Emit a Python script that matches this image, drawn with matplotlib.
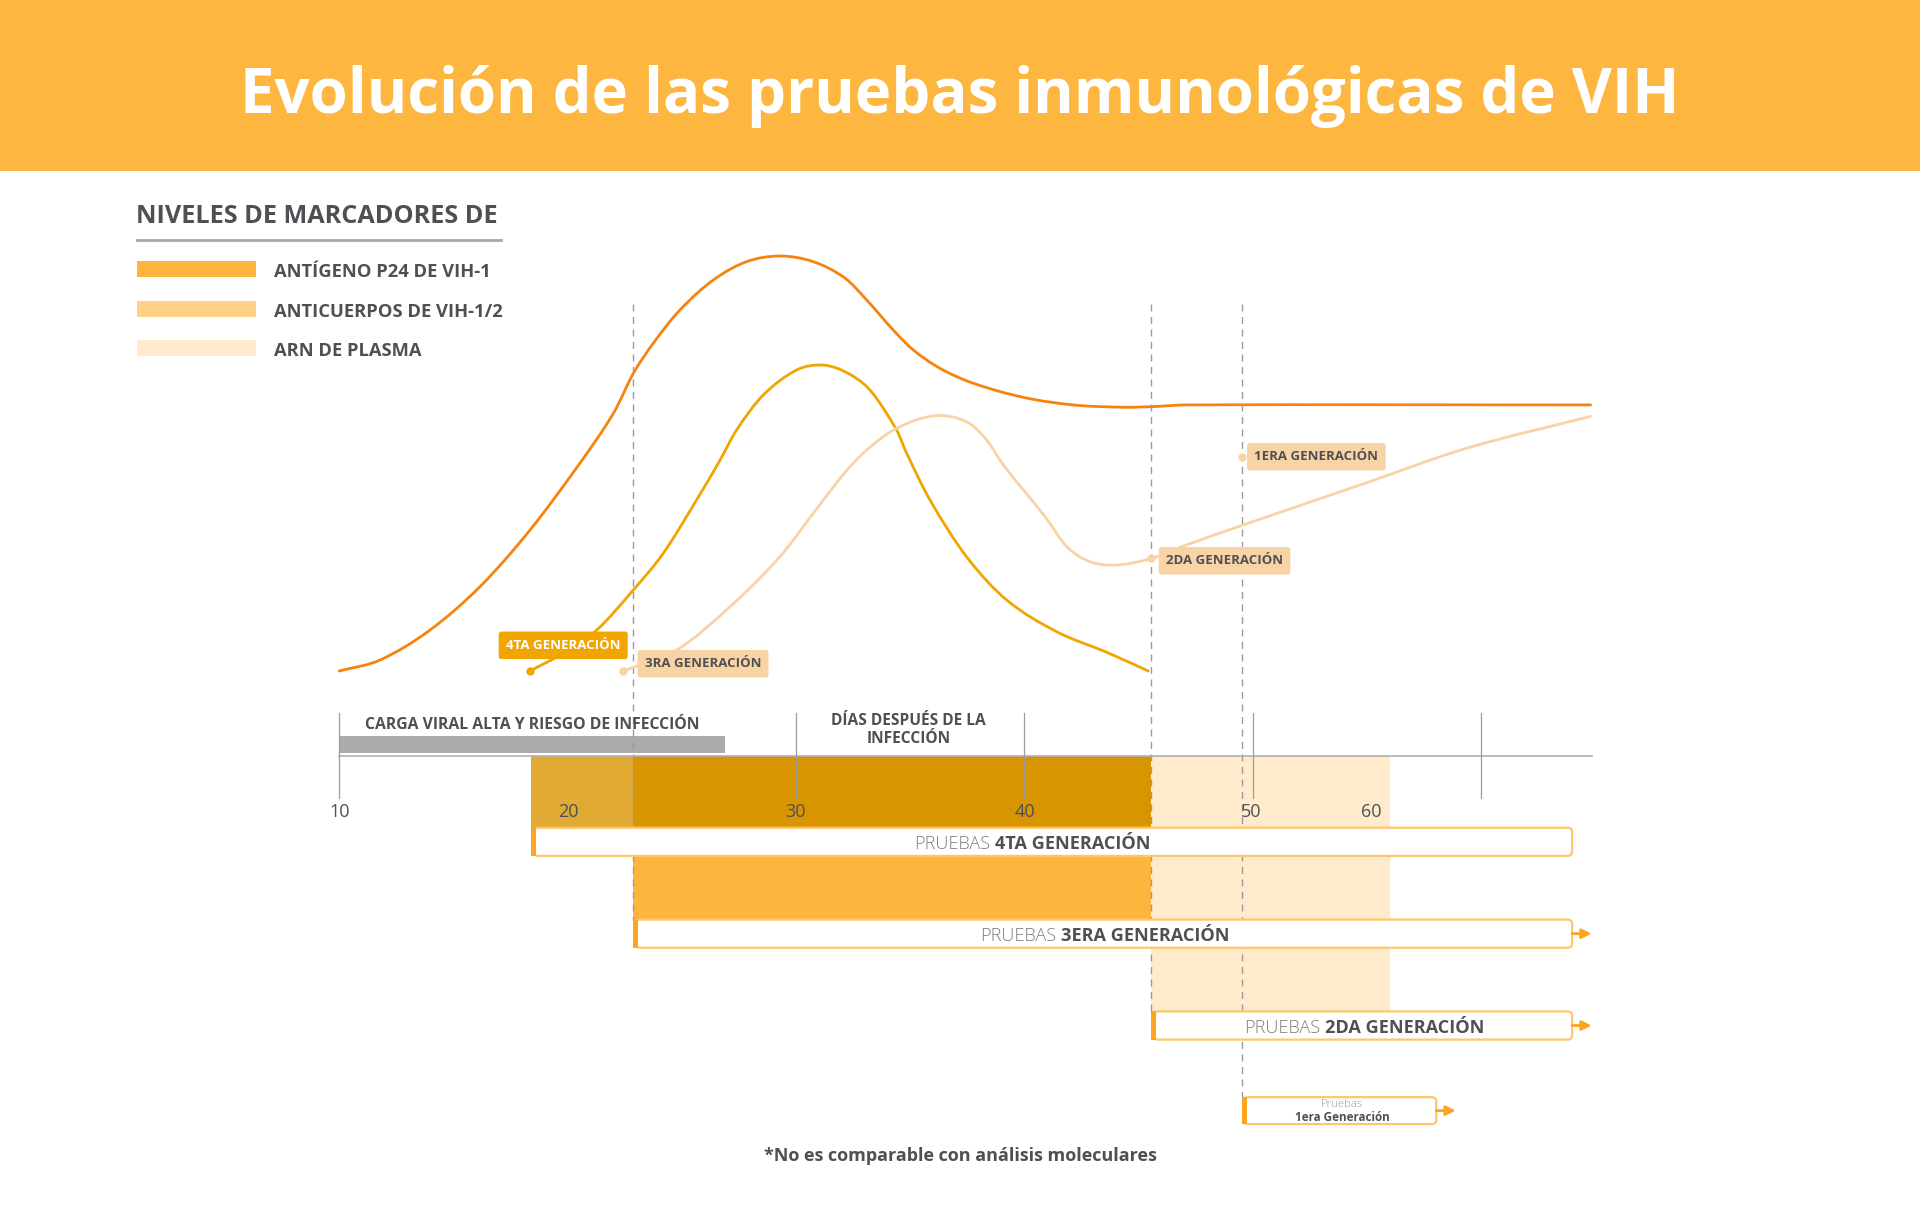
import matplotlib
matplotlib.use("Agg")
import matplotlib.pyplot as plt
from matplotlib.patches import Rectangle, FancyBboxPatch, PathPatch
from matplotlib.path import Path
from matplotlib.transforms import offset_copy

plt.rcParams['font.family'] = ['Open Sans', 'DejaVu Sans']

# ---------------------------------------------------------------------------
# datos (dias despues de la infeccion, nivel relativo)
# ---------------------------------------------------------------------------
dias_arn = [10.0, 11.79, 13.98, 16.17, 18.35, 20.55, 22.01, 22.88, 23.75, 24.92,
            26.38, 27.84, 29.30, 30.76, 32.14, 33.10, 34.26, 35.14, 36.31, 37.77,
            39.96, 42.14, 44.34, 45.58, 47.11, 64.80]
nivel_arn = [0, 9, 33.5, 69, 115, 170, 210.5, 243, 267.6, 294.8, 319.3, 334.3,
             338.9, 334.3, 321, 303, 278.5, 262.2, 247.2, 235, 223.5, 217.3,
             215.4, 215.9, 217.3, 217.3]

dias_p24 = [18.35, 19.81, 21.28, 22.88, 24.19, 25.65, 26.68, 27.40, 28.57, 30.03,
            31.13, 32.14, 33.24, 34.41, 34.85, 35.87, 37.47, 39.23, 41.42, 43.61,
            45.43]
nivel_p24 = [0, 14.5, 33.5, 66.2, 96.1, 139.7, 172.3, 196.8, 225.4, 245.8, 249.9,
             244.5, 229.5, 196.8, 177.8, 139.7, 93.4, 58, 32.1, 15.3, 0]

dias_anti = [22.44, 24.78, 27.12, 29.30, 30.76, 32.14, 33.10, 34.41, 36.09, 37.47,
             38.35, 39.08, 40.91, 41.86, 42.88, 44.05, 45.58, 46.97, 49.59, 54.70,
             59.38, 64.80]
nivel_anti = [0, 17.2, 52.6, 93.4, 128.8, 162, 180.5, 198.2, 208.5, 203.6, 188.7,
              168.3, 126, 101.6, 89.3, 86.6, 92, 102.1, 119.3, 151.9, 182, 208]

# generaciones de pruebas: inicio de la ventana de deteccion (dias)
generaciones = ["4TA GENERACIÓN", "3ERA GENERACIÓN", "2DA GENERACIÓN", "1era Generación"]
etiquetas_curva = ["4TA GENERACIÓN", "3RA GENERACIÓN", "2DA GENERACIÓN", "1ERA GENERACIÓN"]
inicio_ventana = [18.42, 22.87, 45.55, 49.52]
fin_prueba = [63.99, 63.99, 63.99, 58.04]
con_flecha = [False, True, True, True]

carga_viral = [10.05, 26.89]      # periodo de carga viral alta
fin_crema = 56.0

ticks_dias = [10, 30, 40, 50, 60]
etiquetas_x = ["10", "20", "30", "40", "50", "60"]
pos_etiquetas_x = [10, 20.03, 30, 40.03, 49.95, 55.2]

leyenda = ["ANTÍGENO P24 DE VIH-1", "ANTICUERPOS DE VIH-1/2", "ARN DE PLASMA"]
colores_leyenda = ["#FDB53E", "#FFD186", "#FFEBCB"]

GRIS = "#4F5054"
NARANJA = "#F7830F"
ORO = "#F0A500"
DURAZNO = "#F8D3A5"
BORDE = "#FFC66B"
BARRA = "#FDA51E"

W, H = 1568.0, 994.7   # espacio de trabajo
PX_DIA = 18.65


def fx(x):
    return x / W


def fy(y):
    return 1 - y / H


def curva_suave(ax, xs, ys, color):
    # trazo bezier (hermite) que pasa por los puntos leidos
    n = len(xs)
    m = []
    for i in range(n):
        a = max(i - 1, 0)
        b = min(i + 1, n - 1)
        m.append((ys[b] - ys[a]) / (xs[b] - xs[a]))
    verts = [(xs[0], ys[0])]
    codes = [Path.MOVETO]
    for i in range(n - 1):
        h = (xs[i + 1] - xs[i]) / 3
        verts += [(xs[i] + h, ys[i] + m[i] * h),
                  (xs[i + 1] - h, ys[i + 1] - m[i + 1] * h),
                  (xs[i + 1], ys[i + 1])]
        codes += [Path.CURVE4] * 3
    ax.add_patch(PathPatch(Path(verts, codes), fc='none', ec=color, lw=2,
                           capstyle='round', zorder=4))


def texto_mixto(ax, x, y, ligero, negrita, size):
    fig = ax.figure
    r = fig.canvas.get_renderer()
    t1 = ax.text(x, y, ligero, size=size, weight='light', color="#7E7E7E",
                 va='center_baseline', ha='left', zorder=8)
    t2 = ax.text(x, y, negrita, size=size, weight='bold', color=GRIS,
                 va='center_baseline', ha='left', zorder=8)
    w1 = t1.get_window_extent(r).width
    w2 = t2.get_window_extent(r).width
    gap = size * 0.35
    tot = w1 + gap + w2
    t1.set_transform(offset_copy(ax.transData, fig, x=-tot / 2, units='dots'))
    t2.set_transform(offset_copy(ax.transData, fig, x=-tot / 2 + w1 + gap, units='dots'))


def main():
    fig = plt.figure(figsize=(19.2, 12.18), dpi=100)
    ax = fig.add_axes([0, 0, 1, 1])
    ax.set_xlim(10 - 277 / PX_DIA, 10 + (W - 277) / PX_DIA)
    ax.set_ylim(548 - H, 548)
    ax.axis('off')

    # banner del titulo
    fig.patches.append(Rectangle((0, fy(140)), 1, 1 - fy(140), transform=fig.transFigure,
                                 fc="#FDB63F", ec='none', zorder=0))
    fig.text(0.5, fy(79), "Evolución de las pruebas inmunológicas de VIH", color='white',
             size=44.5, weight='bold', ha='center', va='center')

    # leyenda
    fig.text(fx(111), fy(177), "NIVELES DE MARCADORES DE", color=GRIS, size=18.2,
             weight='bold', ha='left', va='center')
    fig.add_artist(plt.Line2D([fx(112), fx(409)], [fy(196), fy(196)], color="#A7A7A7", lw=2))
    for i, (nom, col) in enumerate(zip(leyenda, colores_leyenda)):
        yc = 219.5 + i * 32.5
        fig.patches.append(Rectangle((fx(112), fy(yc + 6.5)), fx(209) - fx(112), 13 / H,
                                     transform=fig.transFigure, fc=col, ec='none'))
        fig.text(fx(224), fy(yc + 2.5), nom, color=GRIS, size=13.2, weight='bold',
                 ha='left', va='center')

    # bloques de ventana
    ax.add_patch(Rectangle((inicio_ventana[0], -129), inicio_ventana[1] - inicio_ventana[0], 60,
                           fc="#E0AA35", ec='none', zorder=1))
    ax.add_patch(Rectangle((inicio_ventana[1], -129), inicio_ventana[2] - inicio_ventana[1], 60,
                           fc="#D99500", ec='none', zorder=1))
    ax.add_patch(Rectangle((inicio_ventana[1], -204), inicio_ventana[2] - inicio_ventana[1], 75,
                           fc="#FDB53E", ec='none', zorder=1))
    ax.add_patch(Rectangle((inicio_ventana[2], -278), fin_crema - inicio_ventana[2], 209,
                           fc="#FFEBCB", ec='none', zorder=1))

    # carga viral
    ax.add_patch(Rectangle((carga_viral[0], -67), carga_viral[1] - carga_viral[0], 14,
                           fc="#ABABAB", ec='none', zorder=2))
    ax.text(18.47, -44, "CARGA VIRAL ALTA Y RIESGO DE INFECCIÓN",
            color=GRIS, size=11.3, weight='bold', ha='center', va='center', zorder=5)
    ax.text(34.94, -48, "DÍAS DESPUÉS DE LA\nINFECCIÓN", color=GRIS, size=11.2,
            weight='bold', ha='center', va='center', linespacing=1.2, zorder=5)

    # eje de dias
    ax.plot([10, 64.85], [-69, -69], color="#B0B0B0", lw=1.2, zorder=3)
    for d in ticks_dias:
        ax.plot([d, d], [-34, -104], color="#9C9C9C", lw=0.9, zorder=3)
    for lab, p in zip(etiquetas_x, pos_etiquetas_x):
        ax.text(p, -115, lab, color=GRIS, size=13, ha='center', va='center', zorder=5)

    # lineas discontinuas de cada generacion
    fondo = [None, -203, -278, -348]
    for d, yb in zip(inicio_ventana[1:], fondo[1:]):
        ax.plot([d, d], [300, yb], color="#9A9A9A", lw=1, ls=(0, (5, 4)), zorder=2)

    # curvas
    curva_suave(ax, dias_arn, nivel_arn, NARANJA)
    curva_suave(ax, dias_p24, nivel_p24, ORO)
    curva_suave(ax, dias_anti, nivel_anti, DURAZNO)

    # etiquetas de las curvas
    caja = dict(boxstyle='round,pad=0.55,rounding_size=0.2', ec='none')
    ax.plot([dias_p24[0]], [nivel_p24[0]], 'o', color=ORO, ms=5, zorder=5)
    ax.text(19.81, 21, etiquetas_curva[0], color='white', size=9.5, weight='bold',
            ha='center', va='center', zorder=6, bbox=dict(caja, fc=ORO))
    ax.plot([dias_anti[0]], [nivel_anti[0]], 'o', color=DURAZNO, ms=5, zorder=5)
    ax.text(25.93, 6, etiquetas_curva[1], color=GRIS, size=9.5, weight='bold',
            ha='center', va='center', zorder=6, bbox=dict(caja, fc=DURAZNO))
    ax.plot([inicio_ventana[2]], [92], 'o', color=DURAZNO, ms=5, zorder=5)
    ax.text(48.77, 90, etiquetas_curva[2], color=GRIS, size=9.5, weight='bold',
            ha='center', va='center', zorder=6, bbox=dict(caja, fc=DURAZNO))
    ax.plot([inicio_ventana[3]], [175], 'o', color=DURAZNO, ms=5, zorder=5)
    ax.text(52.79, 175, etiquetas_curva[3], color=GRIS, size=9.5, weight='bold',
            ha='center', va='center', zorder=6, bbox=dict(caja, fc=DURAZNO))

    # cajas de pruebas
    filas = [-139.5, -214.5, -289.5, -359]
    desplaz = [-0.85, 0.1, 0.1, 0.15]
    for i, (gen, ini, fin, fl, yc) in enumerate(zip(generaciones, inicio_ventana, fin_prueba,
                                                    con_flecha, filas)):
        alto = 23 if i < 3 else 22
        ax.add_patch(FancyBboxPatch((ini + 0.1, yc - alto / 2), fin - ini - 0.1, alto,
                                    boxstyle='round,pad=0,rounding_size=0.2',
                                    mutation_aspect=PX_DIA,
                                    fc='white', ec=BORDE, lw=1.6, zorder=6))
        ax.add_patch(Rectangle((ini, yc - alto / 2), 0.22, alto, fc=BARRA, ec='none', zorder=7))
        if fl:
            ax.annotate('', xy=(fin + 0.85, yc), xytext=(fin, yc),
                        arrowprops=dict(arrowstyle='-|>', color=BARRA, lw=2,
                                        mutation_scale=14, shrinkA=0, shrinkB=0), zorder=7)
        xc = (ini + fin) / 2 + desplaz[i]
        if i < 3:
            texto_mixto(ax, xc, yc, "PRUEBAS", gen, 13.1)
        else:
            ax.text(xc, yc + 5, "Pruebas", color="#9A9A9A", size=8.2, weight='light',
                    ha='center', va='center', zorder=8)
            ax.text(xc, yc - 5.5, gen, color=GRIS, size=8.4, weight='bold',
                    ha='center', va='center', zorder=8)

    fig.text(fx(784), fy(944), "*No es comparable con análisis moleculares", color=GRIS,
             size=13, weight='bold', ha='center', va='center')

    fig.savefig("out.png", dpi=100, facecolor='white')


if __name__ == "__main__":
    main()
